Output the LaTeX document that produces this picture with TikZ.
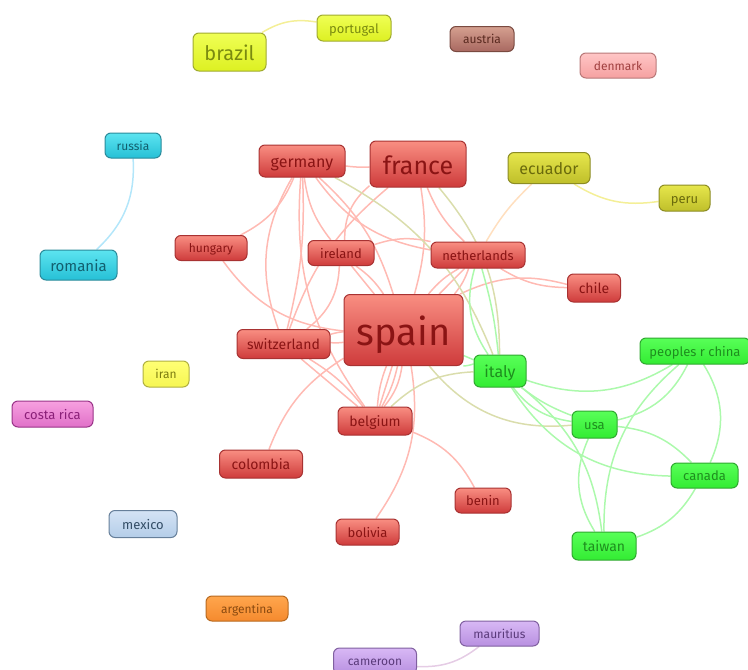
\documentclass[tikz,border=0pt]{standalone}
\usepackage{fontspec}
\setmainfont{Fira Sans}
\usetikzlibrary{backgrounds}
\definecolor{redlink}{HTML}{FFBAB3}
\definecolor{greenlink}{HTML}{ACF9AC}
\definecolor{mixlink}{HTML}{DADDAC}
\definecolor{redtop}{HTML}{F98E82}\definecolor{redbot}{HTML}{CE3B3B}\definecolor{redline}{HTML}{A83232}\definecolor{redtext}{HTML}{8A1414}
\definecolor{greentop}{HTML}{58FF58}\definecolor{greenbot}{HTML}{33EC33}\definecolor{greenline}{HTML}{2FA82F}\definecolor{greentext}{HTML}{1E8E1E}
\definecolor{limetop}{HTML}{EFFF55}\definecolor{limebot}{HTML}{DDF022}\definecolor{limeline}{HTML}{A0AA30}\definecolor{limetext}{HTML}{7A8A10}
\definecolor{olivetop}{HTML}{E6E64C}\definecolor{olivebot}{HTML}{BFBF2A}\definecolor{oliveline}{HTML}{8C8C24}\definecolor{olivetext}{HTML}{6A6A0C}
\definecolor{yellowtop}{HTML}{FFFF74}\definecolor{yellowbot}{HTML}{F6F652}\definecolor{yellowline}{HTML}{B0B040}\definecolor{yellowtext}{HTML}{7C7C10}
\definecolor{cyantop}{HTML}{5CE4F0}\definecolor{cyanbot}{HTML}{26C0D6}\definecolor{cyanline}{HTML}{2A8A9A}\definecolor{cyantext}{HTML}{125F6E}
\definecolor{pinktop}{HTML}{F7A0E0}\definecolor{pinkbot}{HTML}{E070C8}\definecolor{pinkline}{HTML}{993388}\definecolor{pinktext}{HTML}{8A1F78}
\definecolor{bluetop}{HTML}{D4E3F5}\definecolor{bluebot}{HTML}{B4CDE8}\definecolor{blueline}{HTML}{667F9A}\definecolor{bluetext}{HTML}{334D66}
\definecolor{orangetop}{HTML}{FFA64D}\definecolor{orangebot}{HTML}{F58A2E}\definecolor{orangeline}{HTML}{B86A20}\definecolor{orangetext}{HTML}{8A4A10}
\definecolor{purpletop}{HTML}{D8B8F5}\definecolor{purplebot}{HTML}{B890E0}\definecolor{purpleline}{HTML}{8060A0}\definecolor{purpletext}{HTML}{5A3A7A}
\definecolor{browntop}{HTML}{D5A090}\definecolor{brownbot}{HTML}{A86860}\definecolor{brownline}{HTML}{7A4A40}\definecolor{browntext}{HTML}{5A2A20}
\definecolor{salmontop}{HTML}{FFC6C6}\definecolor{salmonbot}{HTML}{F5A0A0}\definecolor{salmonline}{HTML}{B87878}\definecolor{salmontext}{HTML}{A04040}
\tikzset{%
  term/.style={rectangle,rounded corners=6pt,inner sep=0pt,line width=1pt,
    draw=#1line,top color=#1top,bottom color=#1bot,text=#1text},
  sized/.style n args={3}{minimum width=#1,minimum height=#2,font=\fontsize{#3}{#3}\selectfont,
    text height=.9*#3pt,text depth=.08*#3pt},
  link/.style={line width=1.5pt,redlink},
  glink/.style={line width=1.5pt,greenlink},
  mlink/.style={line width=1.5pt,mixlink}
}
\begin{document}
\begin{tikzpicture}[x=1pt,y=-1pt]
      \useasboundingbox (0,0) rectangle (748,670);

      \node (brazil) [term=lime,sized={73pt}{38pt}{20}] at (229.5,52) {brazil};
      \node (portugal) [term=lime,sized={74pt}{26pt}{13}] at (354,28) {portugal};
      \node (austria) [term=brown,sized={64pt}{25pt}{12}] at (482,39) {austria};
      \node (denmark) [term=salmon,sized={76pt}{25pt}{12}] at (618,65.5) {denmark};
      \node (russia) [term=cyan,sized={56pt}{25pt}{12}] at (133,145.5) {russia};
      \node (romania) [term=cyan,sized={77pt}{30pt}{15}] at (78.5,265) {romania};
      \node (germany) [term=red,sized={86pt}{32pt}{16}] at (302,161) {germany};
      \node (france) [term=red,sized={96pt}{46pt}{25}] at (418,164) {france};
      \node (ecuador) [term=olive,sized={82pt}{31pt}{16}] at (549,168) {ecuador};
      \node (peru) [term=olive,sized={51pt}{26pt}{13}] at (684.5,198) {peru};
      \node (hungary) [term=red,sized={72pt}{25pt}{12}] at (211,248) {hungary};
      \node (ireland) [term=red,sized={66pt}{25pt}{13}] at (341,253) {ireland};
      \node (netherlands) [term=red,sized={94pt}{26pt}{13}] at (478,255) {netherlands};
      \node (chile) [term=red,sized={53pt}{28pt}{14}] at (594,288) {chile};
      \node (spain) [term=red,sized={119pt}{71pt}{38}] at (403.5,330) {spain};
      \node (switzerland) [term=red,sized={93pt}{29pt}{14}] at (283.5,344) {switzerland};
      \node (italy) [term=green,sized={52pt}{32pt}{16}] at (500,371) {italy};
      \node (china) [term=green,sized={110pt}{26pt}{13}] at (695,351) {peoples r china};
      \node (iran) [term=yellow,sized={46pt}{26pt}{12}] at (166,374) {iran};
      \node (costarica) [term=pink,sized={81pt}{26pt}{13}] at (52.5,414) {costa rica};
      \node (belgium) [term=red,sized={74pt}{28pt}{14}] at (375,421) {belgium};
      \node (usa) [term=green,sized={45pt}{27pt}{13}] at (594.5,424.5) {usa};
      \node (canada) [term=green,sized={67pt}{25pt}{13}] at (704.5,475.5) {canada};
      \node (colombia) [term=red,sized={83pt}{28pt}{14}] at (261,464) {colombia};
      \node (mexico) [term=blue,sized={68pt}{27pt}{13}] at (143,524) {mexico};
      \node (benin) [term=red,sized={56pt}{25pt}{13}] at (483,500.5) {benin};
      \node (bolivia) [term=red,sized={63pt}{26pt}{13}] at (367.5,532) {bolivia};
      \node (taiwan) [term=green,sized={64pt}{28pt}{14}] at (604,546) {taiwan};
      \node (argentina) [term=orange,sized={82pt}{25pt}{12}] at (247,608.5) {argentina};
      \node (mauritius) [term=purple,sized={79pt}{25pt}{12}] at (499.5,633.5) {mauritius};
      \node (cameroon) [term=purple,sized={83pt}{26pt}{12}] at (375,661) {cameroon};

      \begin{scope}[on background layer]
      \path (brazil) edge[line width=1.5pt, yellow!40!white!95!black, bend left=20] (portugal)
            (russia) edge[line width=1.5pt, cyan!30!white, bend left=25] (romania)
            (ecuador) edge[line width=1.5pt, yellow!40!white!95!black, bend right=20] (peru)
            (cameroon) edge[line width=1.5pt, violet!20!white, bend right=20] (mauritius);

      \path (germany) edge[link, bend left=20] (hungary)
            (germany) edge[link, bend right=25] (switzerland)
            (germany) edge[link, bend left=8] (switzerland)
            (germany) edge[link, bend right=20] (belgium)
            (germany) edge[link, bend right=15] (ireland)
            (germany) edge[link, bend right=22] (netherlands)
            (germany) edge[link, bend left=15] (spain)
            (germany) edge[link, bend right=5] (france);

      \path (france) edge[link, bend right=25] (ireland)
            (france) edge[link, bend right=15] (switzerland)
            (france) edge[link, bend right=12] (netherlands)
            (france) edge[link, bend left=12] (spain);

      \path (hungary) edge[link, bend right=24] (spain)
            (ireland) edge[link, bend left=25] (switzerland)
            (ireland) edge[link] (spain)
            (ireland) edge[link, bend left=10] (spain)
            (netherlands) edge[link, bend right=15] (ireland)
            (netherlands) edge[link] (spain)
            (netherlands) edge[link, bend right=10] (spain)
            (netherlands) edge[link, bend left=10] (spain)
            (chile) edge[link, bend right=20] (spain)
            (chile) edge[link, bend left=15] (netherlands);

      \path (switzerland) edge[link, bend left=5] (spain)
            (switzerland) edge[link, bend right=5] (spain)
            (switzerland) edge[link] (belgium)
            (switzerland) edge[link, bend left=10] (belgium)
            (spain) edge[link, bend right=8] (belgium)
            (spain) edge[link] (belgium)
            (spain) edge[link, bend left=8] (belgium)
            (spain) edge[link, bend left=15] (belgium)
            (spain) edge[link, bend right=18] (colombia)
            (spain) edge[link, bend left=22] (bolivia)
            (belgium) edge[link, bend left=20] (benin);

      \path (ecuador) edge[line width=1.5pt, orange!25!white, bend right=8] (netherlands);

      \path (germany) edge[mlink, bend left=20] (italy)
            (france) edge[mlink, bend left=20] (italy)
            (belgium) edge[mlink, bend left=20] (italy)
            (spain) edge[mlink, bend right=28] (usa);

      \path (netherlands) edge[glink, bend left=5] (italy)
            (netherlands) edge[glink, bend right=25] (italy)
            (spain) edge[glink] (italy)
            (spain) edge[glink, bend right=8] (italy)
            (italy) edge[glink, bend right=22] (usa)
            (italy) edge[glink, bend right=8] (usa)
            (italy) edge[glink, bend right=25] (china)
            (italy) edge[glink, bend right=28] (canada)
            (italy) edge[glink, bend left=22] (taiwan)
            (usa) edge[glink, bend right=25] (china)
            (taiwan) edge[glink, bend left=25] (china)
            (usa) edge[glink, bend right=28] (taiwan)
            (usa) edge[glink, bend left=20] (canada)
            (china) edge[glink, bend left=28] (canada)
            (canada) edge[glink, bend left=20] (taiwan);
      \end{scope}
    \end{tikzpicture}
\end{document}
